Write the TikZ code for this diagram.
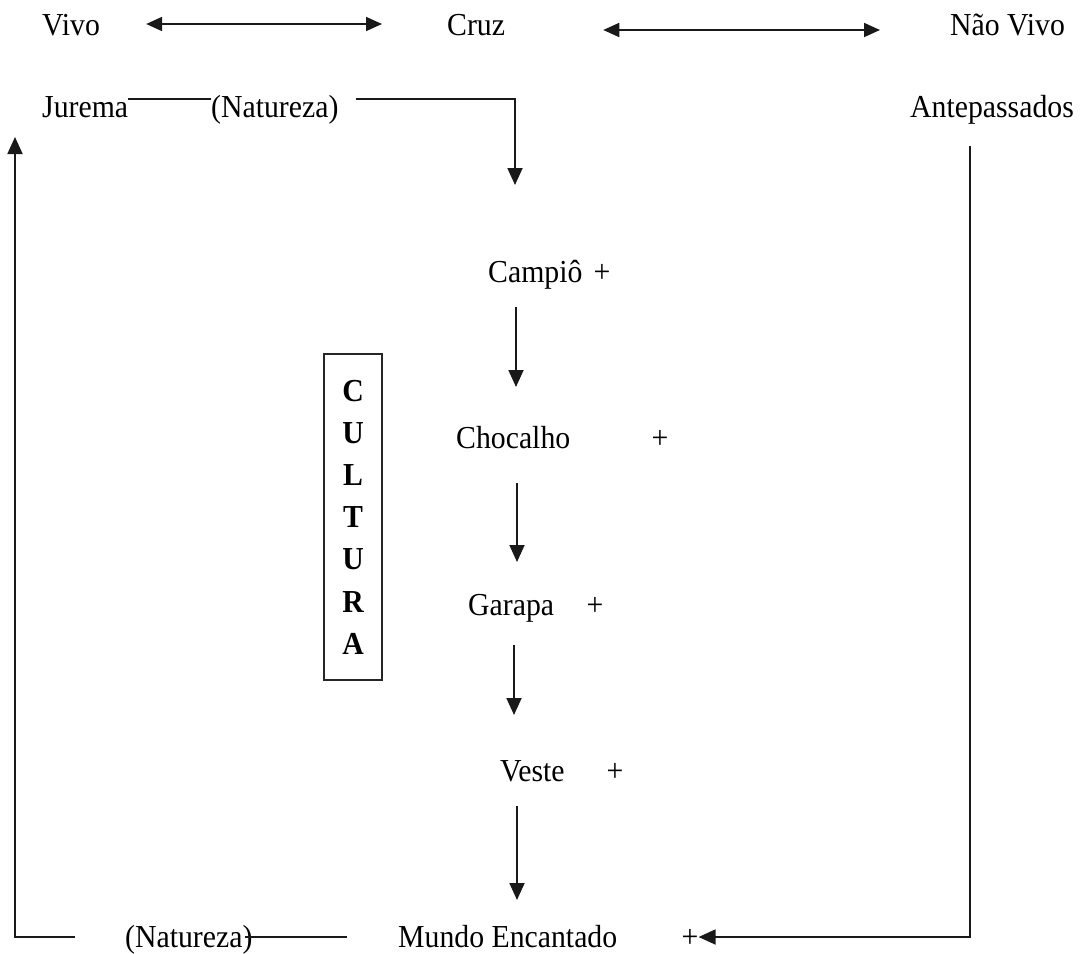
\documentclass[tikz,border=0pt]{standalone}
\usepackage{fontspec}
\setmainfont[FakeStretch=0.93]{Liberation Serif}
\usetikzlibrary{arrows.meta}
\begin{document}
\begin{tikzpicture}[x=1pt,y=-1pt,
  lbl/.style={anchor=base west,inner sep=0pt,font=\fontsize{32}{38}\selectfont},
  plus/.style={anchor=base,inner sep=0pt,font=\fontsize{32}{38}\selectfont},
  conn/.style={line width=1.8pt,draw=black!90},
  tip/.style={-{Triangle[length=17pt,width=15pt]}},
  dtip/.style={{Triangle[length=16pt,width=14pt]}-{Triangle[length=16pt,width=14pt]}},
  culturebox/.style={draw=black!85,line width=1.6pt,minimum width=58pt,minimum height=326pt,inner sep=0pt,align=center,font=\bfseries\fontsize{32}{42.2}\selectfont}]
\useasboundingbox (0,0) rectangle (1081,953);
% rows for horizontal connectors
\coordinate (ra) at (0,24);
\coordinate (rb) at (0,30);
\coordinate (rj) at (0,99);
\coordinate (rm) at (0,937);
\coordinate (ax1) at (516,0);
\coordinate (ax2) at (517,0);
\coordinate (ax3) at (514,0);
\coordinate (ax4) at (517,0);
% top row
\node[lbl] (vivo) at (42,35) {Vivo};
\node[lbl] (cruz) at (447,35) {Cruz};
\node[lbl] (naovivo) at (950,35) {Não Vivo};
% second row
\node[lbl] (jurema) at (42,117) {Jurema};
\node[lbl] (nat1) at (211,117) {(Natureza)};
\node[lbl] (ante) at (910,117) {Antepassados};
% chain
\node[lbl] (campio) at (488,282) {Campiô};
\node[plus] (p1) at (602,282) {+};
\node[lbl] (chocalho) at (456,448) {Chocalho};
\node[plus] (p2) at (660,448) {+};
\node[lbl] (garapa) at (468,615) {Garapa};
\node[plus] (p3) at (595,615) {+};
\node[lbl] (veste) at (500,781) {Veste};
\node[plus] (p4) at (615,781) {+};
\node[lbl] (mundo) at (398,947) {Mundo Encantado};
\node[plus] (p5) at (690,947) {+};
\node[lbl] (nat2) at (125,947) {(Natureza)};
% CULTURA box
\node[culturebox] (cultura) at (353,517) {C\\U\\L\\T\\U\\R\\A};
% free ends
\coordinate (t1) at (515,185);
\coordinate (l0) at (75,937);
\coordinate (l1) at (15,137);
\coordinate (antetop) at (970,146);
% top arrows
\draw[conn,dtip,shorten <=46pt,shorten >=65pt] (vivo.east |- ra) -- (cruz.west |- ra);
\draw[conn,dtip,shorten <=98pt,shorten >=70pt] (cruz.east |- rb) -- (naovivo.west |- rb);
% Jurema line and natureza to chain
\draw[conn] (jurema.east |- rj) -- (nat1.west |- rj);
\draw[conn,tip] (nat1.east |- rj) ++(17,0) -| (t1);
% chain arrows
\draw[conn,tip,shorten <=25pt,shorten >=61pt] (campio.base -| ax1) -- (chocalho.base -| ax1);
\draw[conn,tip,shorten <=35pt,shorten >=53pt] (chocalho.base -| ax2) -- (garapa.base -| ax2);
\draw[conn,tip,shorten <=30pt,shorten >=66pt] (garapa.base -| ax3) -- (veste.base -| ax3);
\draw[conn,tip,shorten <=25pt,shorten >=47pt] (veste.base -| ax4) -- (mundo.base -| ax4);
% Antepassados to Mundo
\draw[conn,tip] (antetop) |- (p5.east |- rm);
% bottom natureza line
\draw[conn,shorten <=-8pt,shorten >=51pt] (nat2.east |- rm) -- (mundo.west |- rm);
% left return
\draw[conn,tip] (l0) -| (l1);
\end{tikzpicture}
\end{document}
